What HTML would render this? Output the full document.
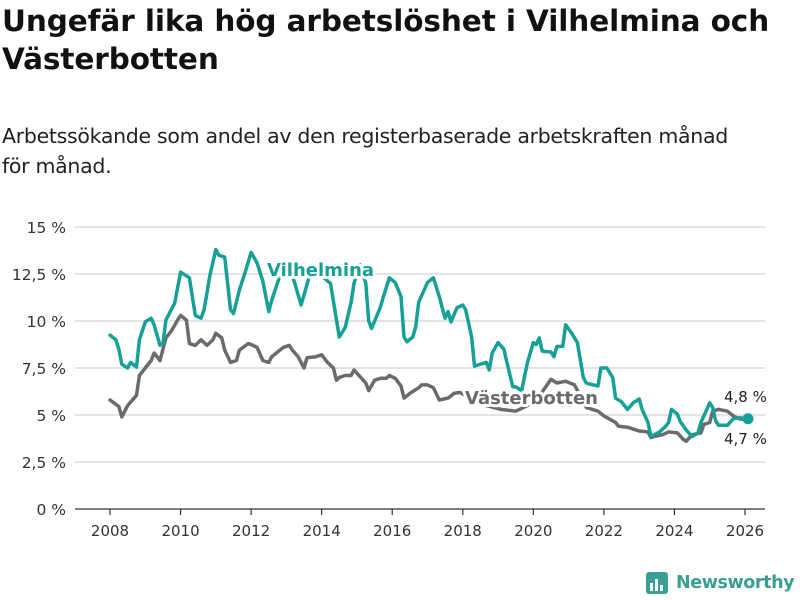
<!DOCTYPE html>
<html><head><meta charset="utf-8"><style>
body{margin:0;background:#fff;width:800px;height:600px;overflow:hidden;font-family:"DejaVu Sans","Liberation Sans",sans-serif;color:#222}
h1{position:absolute;left:2px;top:2px;margin:0;font-size:29.5px;line-height:38px;font-weight:bold;color:#111;letter-spacing:-0.1px;white-space:nowrap}
.sub{position:absolute;left:2px;top:121px;width:798px;font-size:20.5px;line-height:30px;color:#222;letter-spacing:-0.3px}
</style></head><body>
<h1>Ungefär lika hög arbetslöshet i Vilhelmina och<br>Västerbotten</h1>
<div class="sub">Arbetssökande som andel av den registerbaserade arbetskraften månad<br>för månad.</div>
<svg id="chart" width="800" height="600" style="position:absolute;left:0;top:0" xmlns="http://www.w3.org/2000/svg"></svg>
<div style="position:absolute;left:645px;top:571px;display:flex;align-items:center">
<svg width="24" height="24"><rect x="1" y="1" width="22" height="22" rx="3" fill="#3a9e92"/><rect x="5" y="12" width="3" height="8" fill="#fff"/><rect x="10" y="8" width="3" height="12" fill="#fff"/><rect x="15" y="14" width="3" height="6" fill="#fff"/></svg>
<span style="margin-left:7px;font-size:17.5px;font-weight:bold;color:#3a9e92;letter-spacing:-0.4px">Newsworthy</span></div>
<script>
const yTicks=[0,2.5,5,7.5,10,12.5,15];
const yTickLabels=["0 %","2,5 %","5 %","7,5 %","10 %","12,5 %","15 %"];
const xTicks=[2008,2010,2012,2014,2016,2018,2020,2022,2024,2026];
const vilMonths=[0,2,3,4,6,7,9,10,12,14,15,17,18,19,22,24,27,29,31,32,34,36,37,39,41,42,44,46,48,50,52,54,55,58,61,65,69,72,75,78,80,82,83,85,87,88,89,92,93,95,97,99,100,101,103,104,105,108,110,112,113,114,115,116,118,120,121,123,124,126,128,129,130,132,134,135,137,138,140,142,144,145,146,147,150,151,152,154,155,157,159,161,162,163,166,167,169,171,172,174,176,178,180,181,183,184,187,189,190,191,193,194,196,198,200,201,203,204,205,206,207,210,212,214,217];
const vilValues=[9.25,9.0,8.5,7.7,7.5,7.8,7.55,9.0,9.95,10.15,9.8,8.7,8.8,10.05,10.95,12.6,12.3,10.3,10.15,10.6,12.45,13.8,13.5,13.4,10.6,10.4,11.65,12.6,13.65,13.1,12.1,10.5,11.1,12.5,13.0,10.85,13.0,12.4,12.0,9.15,9.65,11.0,12.0,13.0,12.0,10.0,9.6,10.75,11.3,12.3,12.05,11.3,9.15,8.9,9.15,9.7,11.0,12.05,12.3,11.3,10.7,10.15,10.5,9.95,10.7,10.85,10.6,9.15,7.6,7.7,7.8,7.4,8.3,8.85,8.5,7.8,6.5,6.5,6.3,7.8,8.85,8.75,9.1,8.4,8.35,8.1,8.65,8.65,9.8,9.35,8.85,7.0,6.7,6.65,6.55,7.5,7.5,7.0,5.9,5.7,5.3,5.65,5.85,5.3,4.6,3.85,4.1,4.4,4.6,5.3,5.05,4.65,4.2,3.85,4.05,4.6,5.3,5.65,5.4,4.7,4.45,4.45,4.8,4.85,4.8];
const vbMonths=[0,3,4,6,9,10,14,15,17,19,21,23,24,26,27,29,31,33,35,36,38,39,41,43,44,47,48,50,52,54,55,57,59,61,62,64,66,67,70,72,74,76,77,78,80,82,83,85,87,88,90,92,94,95,97,99,100,102,105,106,108,110,112,115,117,119,124,128,133,138,142,146,150,152,155,158,162,166,168,172,173,176,178,180,183,184,185,188,190,193,195,196,198,201,202,204,205,207,210,212,214,217];
const vbValues=[5.8,5.45,4.9,5.5,6.05,7.1,7.9,8.3,7.9,9.1,9.5,10.05,10.3,10.05,8.8,8.7,9.0,8.7,9.0,9.35,9.1,8.45,7.8,7.9,8.45,8.8,8.75,8.6,7.9,7.8,8.1,8.35,8.6,8.7,8.45,8.1,7.5,8.05,8.1,8.2,7.8,7.5,6.85,7.0,7.1,7.1,7.4,7.05,6.7,6.3,6.85,6.95,6.95,7.1,6.95,6.55,5.9,6.15,6.45,6.6,6.6,6.45,5.8,5.9,6.15,6.2,5.8,5.5,5.3,5.2,5.5,6.0,6.9,6.7,6.8,6.6,5.4,5.2,4.95,4.6,4.4,4.35,4.25,4.15,4.1,3.8,3.85,3.95,4.1,4.05,3.7,3.6,3.95,4.05,4.5,4.6,5.2,5.3,5.2,4.95,4.8,4.73];
const endLabels=["4,8 %","4,7 %"];
const NS="http://www.w3.org/2000/svg";
const svg=document.getElementById('chart');
const X0=110,X1=745,Y0=509,Y1=227;
function xm(m){return X0+m*(X1-X0)/216;}
function xy(yr){return xm((yr-2008)*12);}
function yv(v){return Y0-v*(Y0-Y1)/15;}
function mk(t,a){const e=document.createElementNS(NS,t);for(const k in a)e.setAttribute(k,a[k]);svg.appendChild(e);return e;}
yTicks.forEach((v,i)=>{
 if(v>0){const g=mk('line',{x1:75,x2:765,y1:yv(v),y2:yv(v),stroke:'#dcdcdc','stroke-width':1.5});
 
 }
 const t=mk('text',{x:66,y:yv(v)+6,'text-anchor':'end','font-size':15.5,fill:'#333','font-family':'DejaVu Sans, Liberation Sans, sans-serif'});
 t.textContent=yTickLabels[i];
 
 
});
const ax=mk('line',{x1:75,x2:765,y1:Y0,y2:Y0,stroke:'#333','stroke-width':1.2});


xTicks.forEach(yr=>{
 const l=mk('line',{x1:xy(yr),x2:xy(yr),y1:Y0,y2:Y0+6,stroke:'#333','stroke-width':1.2});
 
 
 const t=mk('text',{x:xy(yr),y:Y0+27,'text-anchor':'middle','font-size':15,fill:'#333','font-family':'DejaVu Sans, Liberation Sans, sans-serif'});
 t.textContent=yr;
 
 
});
function line(ms,vs,c,name){
 const d=ms.map((m,i)=>(i?'L':'M')+xm(m).toFixed(1)+','+yv(vs[i]).toFixed(1)).join('');
 const p=mk('path',{d:d,fill:'none',stroke:c,'stroke-width':3.5,'stroke-linejoin':'round','stroke-linecap':'round'});
 
 
}
line(vbMonths,vbValues,'#6b6a6f','series-vasterbotten');
line(vilMonths,vilValues,'#16a096','series-vilhelmina');
const dv=mk('circle',{cx:xm(vilMonths[vilMonths.length-1]),cy:yv(vilValues[vilValues.length-1]),r:5.5,fill:'#16a096'});


function lab(x,y,txt,c,name,bold){
 const t=mk('text',{x:x,y:y,'font-size':bold?18:15,'font-weight':bold?'bold':'normal',fill:c,stroke:'#fff','stroke-width':bold?6:4,'paint-order':'stroke','stroke-linejoin':'round','font-family':'DejaVu Sans, Liberation Sans, sans-serif'});
 t.textContent=txt;
 
 
}
lab(267,276,'Vilhelmina','#16a096','label-vilhelmina',true);
lab(465,404,'Västerbotten','#6b6a6f','label-vasterbotten',true);
lab(724,402,endLabels[0],'#222','end-label-vilhelmina',false);
lab(724,444,endLabels[1],'#222','end-label-vasterbotten',false);
</script>
</body></html>
